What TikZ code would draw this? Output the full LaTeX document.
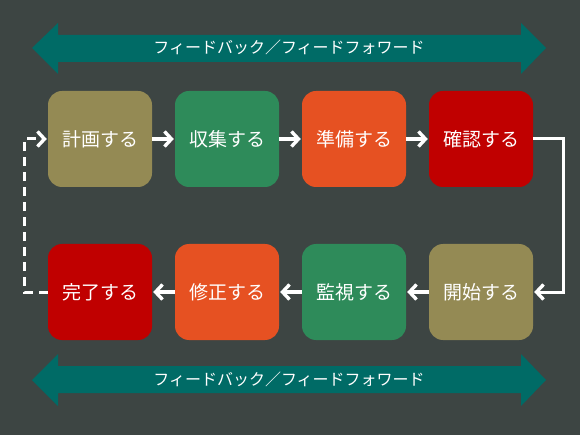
\documentclass[tikz,border=0pt]{standalone}
\usepackage{fontspec}
\newfontfamily\jp{Noto Sans CJK JP}
\usetikzlibrary{arrows.meta}
\definecolor{bg}{HTML}{3D4543}
\definecolor{teal}{HTML}{006B66}
\definecolor{olive}{HTML}{948A54}
\definecolor{grn}{HTML}{2E8B5A}
\definecolor{orng}{HTML}{E65122}
\definecolor{rd}{HTML}{C00000}
\tikzset{
  stepbox/.style={rounded corners=14pt, minimum width=104pt, minimum height=96pt,
    inner sep=0pt, text=white, font=\jp\fontsize{19}{19}\selectfont},
  flow/.style={white, line width=3.4pt, -{Straight Barb[length=7pt,width=15pt,line width=3.4pt]}},
  bigarrow/.style={fill=teal},
  bartext/.style={text=white, font=\jp\fontsize{16}{16}\selectfont}
}
\begin{document}
\begin{tikzpicture}[x=1pt,y=-1pt]
\fill[bg] (0,0) rectangle (580,435);
\useasboundingbox (0,0) rectangle (580,435);
% top double arrow
\fill[bigarrow] (32,48) -- (58,23) -- (58,35) -- (521,35) -- (521,23) -- (546,48) -- (521,74) -- (521,62) -- (58,62) -- (58,74) -- cycle;
\node[bartext] (topbar) at (289,47) {フィードバック／フィードフォワード};
% bottom double arrow
\fill[bigarrow] (32,380) -- (58,354) -- (58,366) -- (521,366) -- (521,354) -- (546,380) -- (521,406) -- (521,393) -- (58,393) -- (58,406) -- cycle;
\node[bartext] (botbar) at (289,379) {フィードバック／フィードフォワード};
% boxes
\node[stepbox, fill=olive] (b1) at (100,139) {計画する};
\node[stepbox, fill=grn]   (b2) at (227,139) {収集する};
\node[stepbox, fill=orng]  (b3) at (354,139) {準備する};
\node[stepbox, fill=rd]    (b4) at (481,139) {確認する};
\node[stepbox, fill=olive] (b5) at (481,292) {開始する};
\node[stepbox, fill=grn]   (b6) at (354,292) {監視する};
\node[stepbox, fill=orng]  (b7) at (227,292) {修正する};
\node[stepbox, fill=rd]    (b8) at (100,292) {完了する};
\coordinate (r1) at (563,139);
\coordinate (r2) at (563,292);
\coordinate (l1) at (24,292);
\coordinate (l2) at (24,139);
% connectors
\draw[flow] (b1.east) -- ([xshift=-1pt]b2.west);
\draw[flow] (b2.east) -- ([xshift=-1pt]b3.west);
\draw[flow] (b3.east) -- ([xshift=-1pt]b4.west);
\draw[flow, line width=3pt] (b4.east) -- (r1) -- (r2) -- ([xshift=1pt]b5.east);
\draw[flow] (b5.west) -- ([xshift=1pt]b6.east);
\draw[flow] (b6.west) -- ([xshift=1pt]b7.east);
\draw[flow] (b7.west) -- ([xshift=1pt]b8.east);
\draw[flow, line width=3pt, dash pattern=on 9pt off 6pt] (b8.west) -- (l1) -- (l2) -- ([xshift=-1pt]b1.west);
\end{tikzpicture}
\end{document}
